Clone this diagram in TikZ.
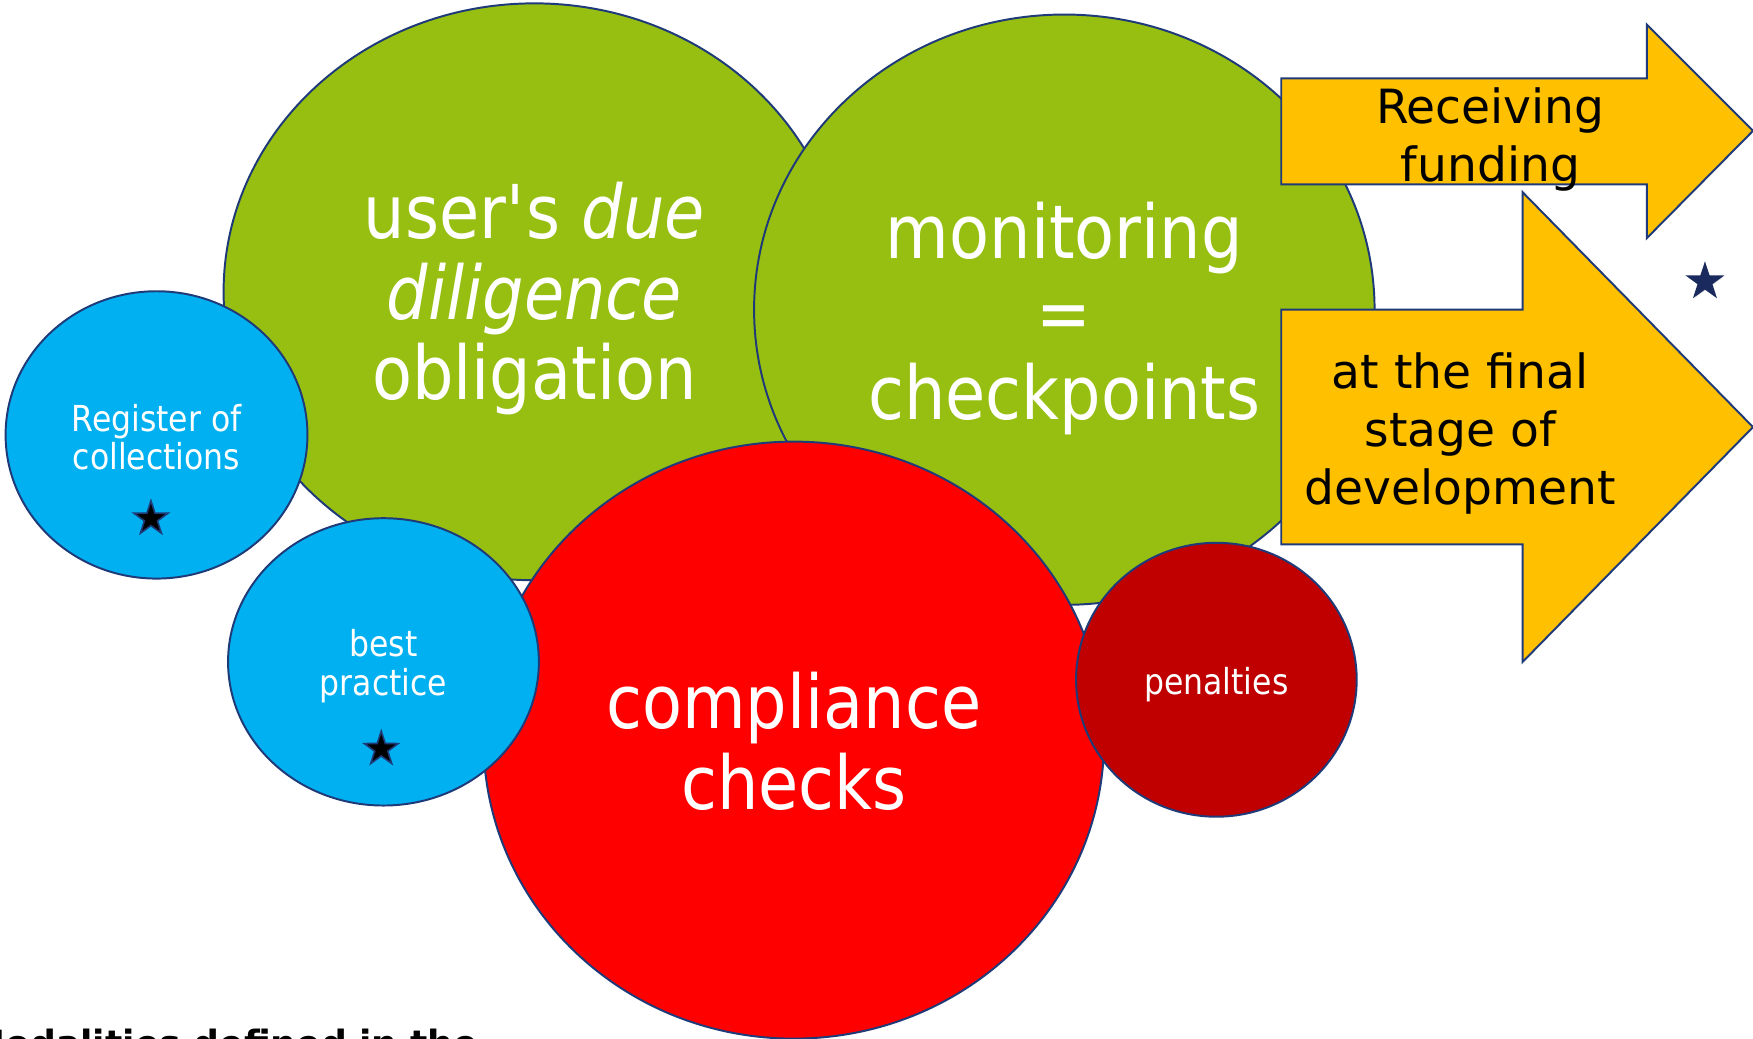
\documentclass[tikz,border=0pt]{standalone}
\usepackage{fontspec}
\setmainfont{DejaVu Sans}
\newfontfamily\bubblefont[FakeStretch=0.88]{DejaVu Sans}
\usetikzlibrary{shadows, shapes, positioning, calc}

\definecolor{leafgreen}{HTML}{97BF11}
\definecolor{skyblue}{HTML}{00B0F0}
\definecolor{alarmred}{HTML}{FF0000}
\definecolor{penaltyred}{HTML}{C00000}
\definecolor{amber}{HTML}{FFC000}
\definecolor{navyline}{HTML}{1F3A78}
\definecolor{starnavy}{HTML}{1A2A5E}

\begin{document}
\begin{tikzpicture}[
  bubble/.style={ellipse, draw=navyline, line width=0.5pt, inner sep=0pt},
  bubbletext/.style={align=center, text=white, inner sep=0pt, font=\bubblefont\fontsize{18.9}{20.4}\selectfont},
  smalltext/.style={bubbletext, font=\bubblefont\fontsize{9.1}{9.8}\selectfont},
  arrowbox/.style={draw=navyline, line width=0.5pt, fill=amber},
  arrowtext/.style={align=center, font=\fontsize{12}{14.8}\selectfont},
  starmark/.style={star, star points=5, star point ratio=2.6, minimum size=0.32cm, inner sep=0pt, fill=black, draw=navyline, line width=0.4pt}]
\useasboundingbox (0,0) rectangle (15.68,-9.29);
% Bubbles, back to front
\node[bubble, fill=leafgreen, minimum width=5.56cm, minimum height=5.16cm] (diligence) at (4.78,-2.61) {};
\node[bubbletext] (diligence_txt) at ([yshift=-0.06cm]diligence.center) {user\textquotesingle s \textit{due}\\\textit{diligence}\\obligation};
\node[bubble, fill=leafgreen, minimum width=5.55cm, minimum height=5.28cm] (monitoring) at (9.52,-2.77) {};
\node[bubbletext] (monitoring_txt) at ([yshift=-0.08cm]monitoring.center) {monitoring\\=\\checkpoints};
\node[bubble, fill=skyblue, minimum width=2.70cm, minimum height=2.57cm] (register) at (1.40,-3.89) {};
\node[smalltext] (register_txt) at ([yshift=-0.02cm]register.center) {Register of\\collections};
\node[bubble, fill=alarmred, minimum width=5.55cm, minimum height=5.34cm] (compliance) at (7.10,-6.62) {};
\node[bubbletext] (compliance_txt) at ([yshift=-0.01cm]compliance.center) {compliance\\checks};
\node[bubble, fill=skyblue, minimum width=2.78cm, minimum height=2.57cm] (practice) at (3.43,-5.92) {};
\node[smalltext] (practice_txt) at ([yshift=-0.04cm]practice.center) {best\\practice};
\node[bubble, fill=penaltyred, minimum width=2.51cm, minimum height=2.45cm] (penalties) at (10.88,-6.08) {};
\node[smalltext] (penalties_txt) at ([yshift=-0.04cm]penalties.center) {penalties};
% Stars
\node[starmark] (star_reg) at (1.35,-4.64) {};
\node[starmark] (star_best) at (3.41,-6.70) {};
\node[starmark, fill=starnavy, draw=starnavy, drop shadow={opacity=0.25, shadow xshift=0.3pt, shadow yshift=-0.3pt}] (star_side) at (15.25,-2.52) {};
% Arrows
\draw[arrowbox] (11.46,-0.70) -- (14.73,-0.70) -- (14.73,-0.22) -- (15.68,-1.17) -- (14.73,-2.13) -- (14.73,-1.65) -- (11.46,-1.65) -- cycle;
\node[arrowtext] (funding) at (13.33,-1.25) {Receiving\\funding};
\draw[arrowbox] (11.46,-2.77) -- (13.62,-2.77) -- (13.62,-1.72) -- (15.68,-3.82) -- (13.62,-5.92) -- (13.62,-4.87) -- (11.46,-4.87) -- cycle;
\node[arrowtext] (finalstage) at (13.06,-3.88) {at the final\\stage of\\development};
% Caption, cut by the page edge
\node[anchor=base west, font=\bfseries\fontsize{9.2}{11}\selectfont, inner sep=0pt] (modalities) at (-0.28,-9.45) {Modalities defined in the};
\end{tikzpicture}
\end{document}
